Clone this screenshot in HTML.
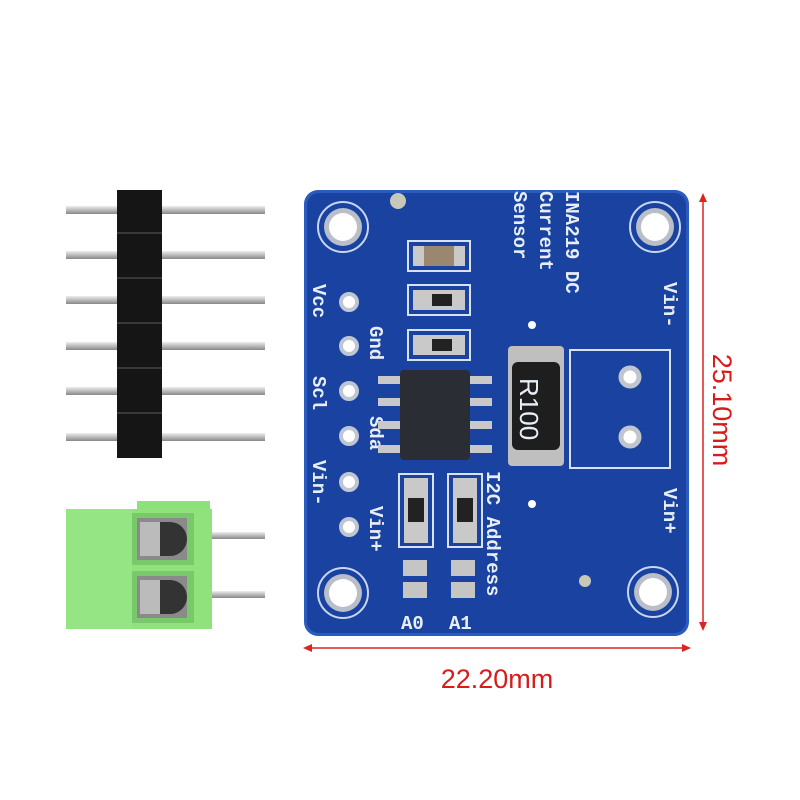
<!DOCTYPE html>
<html><head><style>
html,body{margin:0;padding:0;background:#fff;width:800px;height:800px;overflow:hidden}
svg{display:block}
text{font-family:"Liberation Mono",monospace;font-weight:bold;fill:#e8eef8}
</style></head><body>
<svg width="800" height="800" viewBox="0 0 800 800" xmlns="http://www.w3.org/2000/svg">
<defs>
<linearGradient id="pin" x1="0" y1="0" x2="0" y2="1"><stop offset="0" stop-color="#eee"/><stop offset="0.5" stop-color="#bbb"/><stop offset="1" stop-color="#888"/></linearGradient>
</defs>
<g>
<rect x="66" y="206" width="199" height="8" fill="url(#pin)"/>
<rect x="66" y="251" width="199" height="8" fill="url(#pin)"/>
<rect x="66" y="296" width="199" height="8" fill="url(#pin)"/>
<rect x="66" y="342" width="199" height="8" fill="url(#pin)"/>
<rect x="66" y="387" width="199" height="8" fill="url(#pin)"/>
<rect x="66" y="433" width="199" height="8" fill="url(#pin)"/>
<rect x="117" y="190" width="45" height="268" fill="#151515"/>
<g stroke="#444" stroke-width="1.5">
<line x1="117" y1="233" x2="162" y2="233"/><line x1="117" y1="278" x2="162" y2="278"/>
<line x1="117" y1="323" x2="162" y2="323"/><line x1="117" y1="368" x2="162" y2="368"/>
<line x1="117" y1="413" x2="162" y2="413"/></g>
</g>
<rect x="190" y="532" width="75" height="7" fill="url(#pin)"/>
<rect x="190" y="591" width="75" height="7" fill="url(#pin)"/>
<rect x="137" y="501" width="73" height="10" fill="#8ee07a"/>
<rect x="66" y="509" width="146" height="120" fill="#8fe27c"/>
<rect x="66" y="509" width="66" height="120" fill="#96e584"/>
<rect x="132" y="513" width="62" height="52" fill="#79c86a"/>
<rect x="132" y="571" width="62" height="52" fill="#79c86a"/>
<rect x="137" y="518" width="50" height="42" fill="#8a8a8a"/>
<rect x="137" y="576" width="50" height="42" fill="#8a8a8a"/>
<path d="M160 522 h10 a16 16 0 0 1 0 34 h-10z" fill="#333"/>
<path d="M160 580 h10 a16 16 0 0 1 0 34 h-10z" fill="#333"/>
<rect x="140" y="522" width="20" height="34" fill="#bbb"/>
<rect x="140" y="580" width="20" height="34" fill="#bbb"/>
<!-- board -->
<rect x="304" y="190" width="385" height="446" rx="14" fill="#2a5cc0"/>
<rect x="307" y="193" width="379" height="440" rx="12" fill="#1a42a0"/>
<g stroke-width="2">
<circle cx="343" cy="227" r="25" fill="#1a42a0" stroke="#c8d6f0"/>
<circle cx="655" cy="227" r="25" fill="#1a42a0" stroke="#c8d6f0"/>
<circle cx="343" cy="593" r="25" fill="#1a42a0" stroke="#c8d6f0"/>
<circle cx="653" cy="592" r="25" fill="#1a42a0" stroke="#c8d6f0"/>
<circle cx="343" cy="227" r="19" fill="#b9bec8"/><circle cx="343" cy="227" r="14" fill="#fff"/>
<circle cx="655" cy="227" r="19" fill="#b9bec8"/><circle cx="655" cy="227" r="14" fill="#fff"/>
<circle cx="343" cy="593" r="19" fill="#b9bec8"/><circle cx="343" cy="593" r="14" fill="#fff"/>
<circle cx="653" cy="592" r="19" fill="#b9bec8"/><circle cx="653" cy="592" r="14" fill="#fff"/>
</g>
<circle cx="398" cy="201" r="8" fill="#c8c8b8"/>
<g fill="#fff" stroke="#bfc6d2" stroke-width="4">
<circle cx="349" cy="302" r="8"/><circle cx="349" cy="346" r="8"/><circle cx="349" cy="391" r="8"/>
<circle cx="349" cy="436" r="8"/><circle cx="349" cy="482" r="8"/><circle cx="349" cy="527" r="8"/>
</g>
<g font-size="19">
<text transform="translate(313,284) rotate(90)">Vcc</text>
<text transform="translate(370,326) rotate(90)">Gnd</text>
<text transform="translate(313,376) rotate(90)">Scl</text>
<text transform="translate(370,416) rotate(90)">Sda</text>
<text transform="translate(313,460) rotate(90)">Vin-</text>
<text transform="translate(370,506) rotate(90)">Vin+</text>
<text transform="translate(514,191) rotate(90)">Sensor</text>
<text transform="translate(540,191) rotate(90)">Current</text>
<text transform="translate(566,191) rotate(90)">INA219 DC</text>
<text transform="translate(664,282) rotate(90)">Vin-</text>
<text transform="translate(664,488) rotate(90)">Vin+</text>
<text transform="translate(487,471) rotate(90)">I2C Address</text>
<text x="401" y="629">A0</text><text x="449" y="629">A1</text>
</g>
<g fill="none" stroke="#d8e2f4" stroke-width="2">
<rect x="408" y="241" width="62" height="30"/><rect x="408" y="285" width="62" height="30"/>
<rect x="408" y="330" width="62" height="30"/>
<rect x="399" y="474" width="34" height="73"/><rect x="448" y="474" width="34" height="73"/>
<rect x="570" y="350" width="100" height="118"/>
</g>
<rect x="413" y="246" width="52" height="20" fill="#c9c9c9"/><rect x="424" y="246" width="30" height="20" fill="#9b8770"/>
<rect x="413" y="290" width="52" height="20" fill="#c9c9c9"/><rect x="432" y="294" width="20" height="12" fill="#222"/>
<rect x="413" y="335" width="52" height="20" fill="#c9c9c9"/><rect x="432" y="339" width="20" height="12" fill="#222"/>
<rect x="404" y="478" width="24" height="65" fill="#c9c9c9"/><rect x="408" y="498" width="16" height="24" fill="#222"/>
<rect x="453" y="478" width="24" height="65" fill="#c9c9c9"/><rect x="457" y="498" width="16" height="24" fill="#222"/>
<g fill="#c5c5c5"><rect x="403" y="560" width="24" height="16"/><rect x="403" y="582" width="24" height="16"/>
<rect x="451" y="560" width="24" height="16"/><rect x="451" y="582" width="24" height="16"/></g>
<g fill="#c9c9c9">
<rect x="378" y="376" width="22" height="8"/><rect x="378" y="398" width="22" height="8"/><rect x="378" y="421" width="22" height="8"/><rect x="378" y="445" width="22" height="8"/>
<rect x="470" y="376" width="22" height="8"/><rect x="470" y="398" width="22" height="8"/><rect x="470" y="421" width="22" height="8"/><rect x="470" y="445" width="22" height="8"/>
</g>
<rect x="400" y="370" width="70" height="90" rx="4" fill="#2a2d33"/>
<rect x="508" y="346" width="56" height="120" rx="4" fill="#bfbfbf"/>
<rect x="512" y="362" width="48" height="88" rx="6" fill="#1e1e1e"/>
<text transform="translate(520,378) rotate(90)" font-size="26" style="font-family:'Liberation Sans',sans-serif;font-weight:normal">R100</text>
<g fill="#fff" stroke="#c0c5cf" stroke-width="5">
<circle cx="630" cy="377" r="9"/><circle cx="630" cy="437" r="9"/></g>
<g fill="#fff"><circle cx="532" cy="325" r="4"/><circle cx="532" cy="504" r="4"/></g>
<circle cx="585" cy="581" r="6" fill="#c8c8b8"/>
<g stroke="#d22" stroke-width="1.5" fill="#d22">
<line x1="703" y1="198" x2="703" y2="626"/>
<path d="M703 193 l-4 9 h8z M703 631 l-4 -9 h8z" stroke="none"/>
<line x1="308" y1="648" x2="686" y2="648"/>
<path d="M303 648 l9 -4 v8z M691 648 l-9 -4 v8z" stroke="none"/>
</g>
<text x="497" y="688" text-anchor="middle" font-size="27" style="font-family:'Liberation Sans',sans-serif;font-weight:normal;fill:#d81b1b">22.20mm</text>
<text transform="translate(713,410) rotate(90)" text-anchor="middle" font-size="27" style="font-family:'Liberation Sans',sans-serif;font-weight:normal;fill:#d81b1b">25.10mm</text>
</svg>
</body></html>
